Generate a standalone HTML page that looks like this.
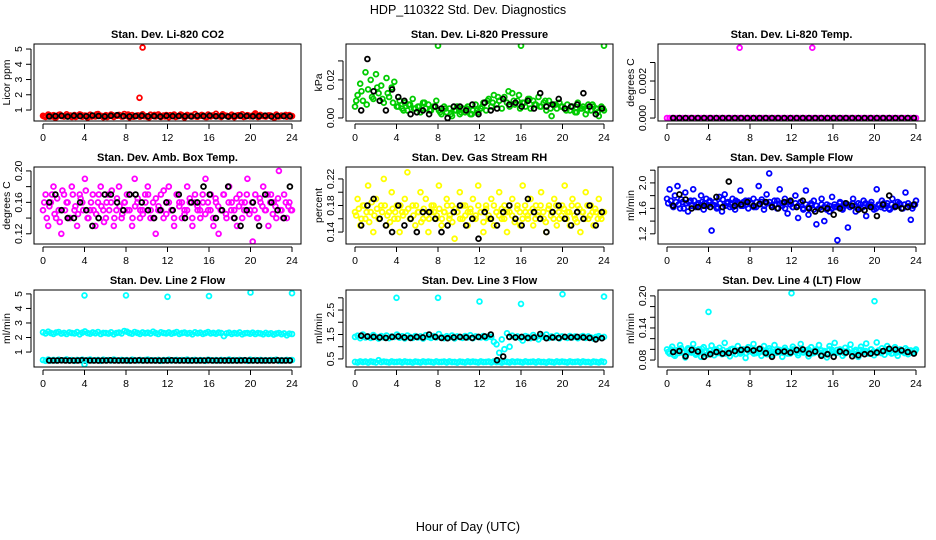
<!DOCTYPE html>
<html><head><meta charset="utf-8"><style>
html,body{margin:0;padding:0;background:#fff;}
svg{display:block;font-family:"Liberation Sans",Arial,sans-serif;}
</style></head><body>
<svg id="chart" width="936" height="540" viewBox="0 0 936 540">
<text x="468" y="14" font-size="12.5" text-anchor="middle">HDP_110322  Std. Dev. Diagnostics</text>
<text x="468" y="531" font-size="12.5" text-anchor="middle">Hour of Day (UTC)</text>
</svg>
<script>
// ---- data ----
const co2Vals=[.62,.55,.70,.58,.66,.52,.68,.60,.57,.72,.63,.54,.67,.59,.71,.56,.64,.50,.69,.61,.58,.73,.62,.53,.66,.60,.70,.55,.63,.68,.57,.74,.61,.52,.67,.59,.65,.56,.72,.60,.54,.69,.62,.58,.71,.55,.64,.67,.53,.60,.70,.57,.63,.66,.51,.68,.61,.59,.73,.56,.62,.65,.54,.70,.58,.64,.75,.60,.55,.67,.62,.57,.69,.53,.64,.61,.72,.56,.66,.59,.63,.78,.55,.68,.60,.57,.65,.62,.52,.70,.58,.64,.61,.56,.67,.60];
const co2Vals2=[.58,.66,.52,.7,.6,.64,.55,.68,.62,.57,.72,.6,.54,.66,.63,.58,.7,.56,.64,.6,.52,.68,.62,.58,.66,.55,.7,.6,.63,.57,.68,.54,.64,.61,.72,.58,.6,.66,.55,.63,.7,.57,.62,.65,.53,.6,.68,.58];
const co2Black=[.58,.6,.62,.57,.63,.6,.59,.64,.61,.58,.62,.66,.6,.58,.61,.63,.59,.6,.57,.62,.6,.61,.59,.58,.62,.6,.63,.59,.61,.57,.6,.62,.61,.59,.6,.63,.58,.61,.6,.59];
const co2OutH=[9.6,9.3], co2OutV=[5.1,1.8];

const presVals=[.006,.012,.018,.009,.024,.015,.020,.010,.023,.013,.017,.008,.021,.011,.016,.019,.006,.009,.005,.008,.004,.007,.010,.005,.006,.003,.008,.005,.007,.004,.006,.009,.004,.002,.006,.003,.005,.001,.004,.006,.002,.005,.003,.006,.002,.004,.007,.003,.005,.008,.004,.010,.006,.012,.007,.009,.005,.011,.008,.006,.013,.007,.009,.005,.008,.006,.010,.005,.009,.007,.011,.006,.008,.004,.009,.001,.007,.005,.008,.006,.005,.007,.004,.006,.003,.008,.005,.006,.002,.007,.004,.006,.005,.001,.006,.004];
const presVals2=[.009,.014,.007,.011,.016,.01,.013,.008,.006,.004,.007,.005,.006,.008,.004,.006,.003,.005,.002,.004,.003,.005,.002,.004,.006,.009,.008,.011,.01,.014,.009,.012,.008,.01,.007,.006,.009,.005,.007,.006,.004,.006,.003,.005,.004,.007,.003,.005];
const presBlack=[.004,.031,.014,.009,.004,.015,.011,.009,.002,.003,.004,.002,.006,.005,.000,.006,.006,.004,.007,.002,.008,.004,.005,.010,.007,.008,.006,.009,.005,.013,.006,.007,.010,.005,.006,.007,.013,.006,.002,.005];
const presOutH=[8,16,24], presOutV=[.038,.038,.038];

const tempVals=[0,0,0,0,0,0,0,0,0,0,0,0,0,0,0,0,0,0,0,0,0,0,0,0,0,0,0,0,0,0,0,0,0,0,0,0,0,0,0,0,0,0,0,0,0,0,0,0,0,0,0,0,0,0,0,0,0,0,0,0,0,0,0,0,0,0,0,0,0,0,0,0,0,0,0,0,0,0,0,0,0,0,0,0,0,0,0,0,0,0,0,0,0,0,0,0];
const tempBlack=[0,0,0,0,0,0,0,0,0,0,0,0,0,0,0,0,0,0,0,0,0,0,0,0,0,0,0,0,0,0,0,0,0,0,0,0,0,0,0,0];
const tempOutH=[7,14], tempOutV=[.0038,.0038];

const ambVals=[.15,.17,.13,.16,.18,.14,.15,.12,.17,.16,.14,.18,.15,.13,.17,.16,.19,.14,.15,.17,.13,.16,.18,.15,.14,.17,.16,.13,.15,.18,.14,.16,.17,.15,.13,.19,.16,.14,.15,.17,.18,.14,.16,.12,.15,.17,.14,.16,.18,.15,.13,.17,.16,.14,.15,.18,.16,.13,.17,.15,.14,.16,.19,.15,.17,.13,.16,.12,.15,.17,.14,.18,.16,.15,.13,.17,.14,.16,.19,.15,.11,.17,.14,.16,.18,.15,.13,.17,.16,.14,.20,.15,.17,.14,.16,.15];
const ambVals2=[.16,.14,.155,.17,.145,.165,.135,.175,.15,.16,.14,.17,.155,.145,.165,.15,.175,.14,.16,.15,.145,.17,.155,.135,.16,.15,.175,.14,.165,.155,.145,.16,.15,.17,.14,.155,.165,.15,.145,.16,.17,.15,.14,.165,.155,.15,.175,.145,.16,.15,.14,.17,.155,.16,.145,.15,.165,.14,.16,.155,.15,.17,.145,.16,.15,.14,.165,.155,.15,.17,.145,.16,.15,.14,.165,.155,.16,.15,.17,.145,.16,.15,.14,.165,.155,.15,.17,.16,.145,.155,.165,.15,.14,.16,.155,.15];
const ambBlack=[.16,.17,.15,.14,.14,.16,.15,.13,.14,.17,.17,.16,.15,.17,.17,.16,.15,.14,.15,.16,.15,.17,.14,.16,.16,.18,.17,.14,.15,.18,.14,.13,.15,.16,.13,.17,.16,.15,.14,.18];

const rhVals=[.17,.19,.15,.18,.16,.21,.17,.14,.19,.16,.18,.22,.15,.17,.20,.16,.18,.14,.17,.19,.23,.16,.18,.15,.17,.20,.16,.19,.14,.17,.18,.16,.21,.15,.17,.19,.16,.18,.13,.17,.20,.16,.18,.15,.17,.19,.16,.21,.17,.14,.18,.16,.19,.15,.17,.20,.16,.18,.14,.17,.19,.16,.18,.15,.21,.17,.16,.19,.15,.18,.17,.20,.16,.14,.18,.17,.19,.15,.16,.18,.21,.17,.15,.19,.16,.18,.14,.17,.20,.16,.18,.15,.17,.19,.16,.17];
const rhVals2=[.165,.175,.16,.18,.17,.155,.185,.165,.175,.16,.17,.18,.165,.155,.175,.17,.16,.18,.165,.17,.175,.16,.165,.18,.17,.155,.175,.165,.16,.18,.17,.165,.175,.16,.17,.18,.165,.155,.175,.17,.16,.18,.165,.17,.175,.16,.165,.18,.17,.155,.175,.165,.16,.18,.17,.165,.175,.16,.17,.18,.165,.155,.175,.17,.16,.18,.165,.17,.175,.16,.165,.18,.17,.155,.175,.165,.16,.18,.17,.165,.175,.16,.17,.18,.165,.155,.175,.17,.16,.18,.165,.17,.175,.16,.165,.17];
const rhBlack=[.15,.18,.19,.16,.15,.14,.18,.15,.16,.14,.17,.17,.16,.14,.15,.17,.18,.15,.16,.13,.17,.16,.15,.17,.18,.16,.15,.19,.17,.16,.14,.17,.18,.16,.15,.17,.16,.18,.15,.17];

const flowVals=[1.75,1.9,1.65,1.8,1.95,1.6,1.7,1.85,1.55,1.72,1.9,1.62,1.68,1.8,1.58,1.75,1.7,1.25,1.65,1.6,1.78,1.55,1.82,1.68,1.62,1.75,1.58,1.7,1.88,1.64,1.72,1.6,1.68,1.75,1.62,1.95,1.7,1.58,1.82,2.15,1.65,1.72,1.6,1.9,1.68,1.75,1.52,1.7,1.62,1.8,1.45,1.7,1.58,1.88,1.5,1.65,1.72,1.35,1.6,1.75,1.4,1.66,1.55,1.78,1.62,1.1,1.7,1.58,1.68,1.3,1.65,1.75,1.55,1.68,1.6,1.72,1.48,1.66,1.7,1.58,1.9,1.65,1.72,1.6,1.68,1.58,1.75,1.62,1.7,1.66,1.6,1.85,1.68,1.42,1.64,1.72];
const flowVals2=[1.68,1.72,1.62,1.7,1.66,1.74,1.6,1.68,1.7,1.64,1.72,1.66,1.62,1.7,1.68,1.64,1.72,1.66,1.7,1.62,1.68,1.74,1.64,1.7,1.66,1.62,1.72,1.68,1.64,1.7,1.66,1.72,1.68,1.62,1.7,1.66,1.74,1.64,1.68,1.7,1.62,1.66,1.72,1.68,1.64,1.6,1.7,1.66,1.62,1.68,1.64,1.7,1.6,1.66,1.62,1.68,1.58,1.64,1.6,1.66,1.62,1.58,1.64,1.6,1.66,1.62,1.68,1.6,1.64,1.66,1.62,1.68,1.64,1.6,1.66,1.62,1.68,1.64,1.66,1.62,1.6,1.66,1.62,1.68,1.64,1.6,1.66,1.62,1.64,1.68,1.6,1.66,1.62,1.64,1.6,1.66];
const flowBlack=[1.64,1.82,1.74,1.6,1.62,1.64,1.62,1.78,1.62,2.02,1.64,1.66,1.7,1.64,1.67,1.7,1.62,1.6,1.7,1.72,1.62,1.72,1.6,1.55,1.58,1.6,1.5,1.6,1.68,1.64,1.58,1.57,1.62,1.48,1.66,1.8,1.63,1.6,1.62,1.66];

const l2Top=[2.36,2.28,2.4,2.3,2.25,2.34,2.38,2.27,2.32,2.24,2.35,2.3,2.28,2.37,2.22,2.33,2.42,2.3,2.26,2.35,2.29,2.38,2.24,2.32,2.3,2.27,2.36,2.22,2.31,2.34,2.28,2.45,2.4,2.3,2.26,2.38,2.32,2.25,2.35,2.29,2.33,2.27,2.4,2.3,2.24,2.36,2.31,2.28,2.35,2.26,2.32,2.38,2.25,2.3,2.34,2.27,2.31,2.22,2.36,2.29,2.33,2.25,2.3,2.37,2.28,2.32,2.26,2.34,2.3,2.1,2.28,2.33,2.25,2.3,2.27,2.35,2.22,2.29,2.31,2.26,2.33,2.24,2.3,2.28,2.22,2.32,2.25,2.29,2.2,2.27,2.31,2.23,2.28,2.15,2.26,2.24];
const l2Low=[.45,.4,.48,.42,.46,.41,.47,.43,.44,.49,.42,.45,.4,.46,.43,.47,.41,.45,.48,.42,.44,.46,.4,.47,.43,.45,.41,.48,.44,.42,.46,.43,.45,.4,.47,.44,.42,.46,.41,.45,.48,.43,.44,.42,.46,.4,.45,.43,.47,.41,.44,.46,.42,.45,.43,.48,.41,.44,.46,.42,.45,.43,.4,.47,.44,.42,.45,.41,.46,.43,.44,.48,.42,.45,.41,.46,.43,.44,.4,.47,.42,.45,.43,.46,.41,.44,.42,.45,.43,.47,.4,.44,.42,.46,.43,.45];
const l2Black=[.42,.42,.42,.43,.42,.41,.42,.42,.43,.42,.42,.42,.41,.42,.42,.43,.42,.42,.42,.42,.41,.42,.43,.42,.42,.42,.42,.41,.42,.42,.43,.42,.42,.42,.42,.41,.42,.42,.42,.43,.42,.42,.42,.41,.42,.42,.42,.42,.43,.42,.42,.41,.42,.42,.42,.42,.43,.42,.42,.42];
const l2OutH=[4,8,12,16,20,24,4], l2OutV=[4.9,4.9,4.8,4.85,5.1,5.05,.15];

const l3Top=[1.4,1.45,1.35,1.5,1.38,1.42,1.36,1.48,1.4,1.33,1.44,1.38,1.46,1.35,1.42,1.4,1.5,1.37,1.43,1.34,1.46,1.4,1.36,1.44,1.38,1.42,1.33,1.47,1.4,1.36,1.44,1.38,1.52,1.4,1.35,1.43,1.38,1.46,1.34,1.42,1.4,1.36,1.44,1.38,1.47,1.35,1.42,1.4,1.38,1.44,1.36,1.42,1.4,1.2,1.1,.75,1.3,.9,1.55,1.0,1.45,1.38,1.42,1.36,1.25,1.44,1.4,1.35,1.48,1.38,1.3,1.43,1.4,1.5,1.36,1.42,1.38,1.46,1.34,1.42,1.4,1.36,1.44,1.38,1.42,1.35,1.4,1.44,1.36,1.42,1.38,1.33,1.4,1.43,1.36,1.4];
const l3Low=[.38,.36,.4,.37,.39,.35,.4,.38,.36,.45,.37,.39,.38,.36,.4,.37,.38,.39,.36,.4,.37,.38,.35,.39,.38,.36,.4,.37,.39,.38,.36,.4,.37,.38,.39,.36,.4,.37,.38,.35,.39,.38,.36,.4,.37,.39,.38,.36,.4,.37,.38,.39,.36,.4,.37,.38,.35,.39,.38,.36,.4,.37,.39,.38,.36,.4,.37,.38,.39,.36,.4,.37,.38,.35,.39,.38,.36,.4,.37,.39,.38,.36,.4,.37,.38,.39,.36,.4,.37,.38,.35,.39,.38,.36,.4,.38];
const l3Black=[1.45,1.42,1.4,1.38,1.36,1.4,1.42,1.38,1.36,1.4,1.38,1.5,1.4,1.36,1.35,1.38,1.4,1.38,1.36,1.4,1.42,1.5,.45,.6,1.4,1.38,1.4,1.36,1.38,1.52,1.35,1.38,1.36,1.4,1.38,1.4,1.38,1.36,1.3,1.35];
const l3OutH=[4,8,12,16,20,24], l3OutV=[3.0,3.0,2.85,2.75,3.15,3.05];

const l4Vals=[.1,.092,.105,.088,.098,.108,.094,.085,.102,.096,.11,.09,.1,.086,.104,.097,.093,.107,.089,.099,.103,.091,.112,.095,.087,.101,.098,.106,.092,.1,.084,.104,.097,.11,.093,.1,.088,.106,.096,.102,.09,.108,.094,.099,.086,.103,.097,.092,.105,.1,.089,.11,.095,.098,.087,.104,.093,.1,.108,.091,.097,.085,.106,.099,.112,.094,.1,.088,.103,.096,.109,.092,.099,.086,.105,.097,.111,.093,.1,.089,.113,.095,.102,.09,.106,.097,.093,.104,.088,.1,.096,.102,.091,.098,.094,.1];
const l4Vals2=[.095,.1,.09,.098,.093,.102,.096,.091,.1,.094,.099,.092,.097,.101,.095,.09,.098,.094,.1,.093,.096,.099,.092,.097,.1,.094,.091,.098,.095,.1,.093,.097,.096,.092,.099,.094,.1,.095,.091,.098,.096,.093,.1,.097,.094,.099,.092,.096,.1,.095,.093,.098,.094,.097,.1,.092,.096,.099,.094,.098,.095,.091,.1,.096,.093,.099,.095,.098,.092,.097,.1,.094,.096,.093,.099,.095,.097,.092,.1,.096,.094,.098,.093,.097,.1,.095,.092,.098,.094,.097,.096,.093,.099,.095,.094,.097];
const l4Black=[.095,.097,.087,.099,.096,.086,.091,.095,.092,.093,.097,.099,.1,.098,.101,.093,.086,.096,.096,.094,.099,.1,.092,.096,.088,.091,.086,.096,.094,.087,.089,.091,.092,.094,.097,.101,.1,.098,.095,.092];
const l4OutH=[4,12,20], l4OutV=[.17,.205,.19];

// ---- drawing ----
const NS='http://www.w3.org/2000/svg';
const svg=document.getElementById('chart');
function mk(tag,attrs,parent){const e=document.createElementNS(NS,tag);for(const k in attrs)e.setAttribute(k,attrs[k]);(parent||svg).appendChild(e);return e;}
const BW=267,BH=77;
function panel(col,row,name,title,ylab,ylim,ticks,tlabels,layers){
  const L=col*312+34,T=44+row*123;
  const g=mk('g',{});
  
  
  const xs=h=>L+9+(h/24)*(BW-18);
  const ys=v=>T+BH-(v-ylim[0])/(ylim[1]-ylim[0])*BH;
  const clip=mk('clipPath',{id:'c'+name},g);mk('rect',{x:L,y:T,width:BW,height:BH},clip);
  const pts=mk('g',{'clip-path':'url(#c'+name+')'},g);
  
  
  layers.forEach(ly=>{
    const n=ly.v.length;
    ly.v.forEach((v,i)=>{
      const h=ly.h?ly.h[i]:(ly.start||0)+i*((ly.end!==undefined?ly.end:24)-(ly.start||0))/(n-1);
      const c=mk('circle',{cx:xs(h).toFixed(1),cy:ys(v).toFixed(1),r:2.4,fill:'none',stroke:ly.c,'stroke-width':1.8},pts);
      
      
    });
  });
  const box=mk('rect',{x:L,y:T,width:BW,height:BH,fill:'none',stroke:'#000','stroke-width':1},g);
  
  
  const t=mk('text',{x:L+BW/2,y:T-6,'font-size':11,'font-weight':'bold','text-anchor':'middle'},g);t.textContent=title;
  
  
  const xt=[0,4,8,12,16,20,24];
  mk('line',{x1:xs(0),x2:xs(24),y1:T+BH+3,y2:T+BH+3,stroke:'#000'},g);
  xt.forEach(h=>{mk('line',{x1:xs(h),x2:xs(h),y1:T+BH+3,y2:T+BH+8,stroke:'#000'},g);
    const tx=mk('text',{x:xs(h),y:T+BH+20,'font-size':10.5,'text-anchor':'middle'},g);tx.textContent=h;
    
    });
  mk('line',{x1:L-3,x2:L-3,y1:ys(ticks[0]),y2:ys(ticks[ticks.length-1]),stroke:'#000'},g);
  ticks.forEach((v,i)=>{const y=ys(v);mk('line',{x1:L-8,x2:L-3,y1:y,y2:y,stroke:'#000'},g);
    if(tlabels[i]){const ty=mk('text',{x:0,y:0,'font-size':10.5,'text-anchor':'middle',transform:`translate(${L-12},${y}) rotate(-90)`},g);ty.textContent=tlabels[i];
    
    }});
  const yl=mk('text',{x:0,y:0,'font-size':10.5,'text-anchor':'middle',transform:`translate(${L-24},${T+BH/2}) rotate(-90)`},g);yl.textContent=ylab;
  
  
}
const K='#000';
panel(0,0,'co2','Stan. Dev. Li-820 CO2','Licor ppm',[0.28,5.33],[1,2,3,4,5],['1','2','3','4','5'],
 [{v:co2Vals,c:'#ff0000'},{v:co2Vals2,c:'#ff0000',start:.12,end:23.9},{v:co2Black,c:K,start:.6,end:23.8},{v:co2OutV,h:co2OutH,c:'#ff0000'}]);
panel(1,0,'pressure','Stan. Dev. Li-820 Pressure','kPa',[-0.0016,0.0389],[0,.01,.02,.03],['0.00','','0.02',''],
 [{v:presVals,c:'#00cc00'},{v:presVals2,c:'#00cc00',start:.12,end:23.9},{v:presBlack,c:K,start:.6,end:23.8},{v:presOutV,h:presOutH,c:'#00cc00'}]);
panel(2,0,'temp','Stan. Dev. Li-820 Temp.','degrees C',[-0.00016,0.004],[0,.001,.002,.003],['0.000','','0.002',''],
 [{v:tempVals,c:'#ff00ff'},{v:tempBlack,c:K,start:.6,end:23.8},{v:tempOutV,h:tempOutH,c:'#ff00ff'}]);
panel(0,1,'ambtemp','Stan. Dev. Amb. Box Temp.','degrees C',[0.107,0.205],[.12,.14,.16,.18,.20],['0.12','','0.16','','0.20'],
 [{v:ambVals,c:'#ff00ff'},{v:ambVals2,c:'#ff00ff',start:.12,end:23.9},{v:ambBlack,c:K,start:.6,end:23.8}]);
panel(1,1,'rh','Stan. Dev. Gas Stream RH','percent',[0.122,0.238],[.14,.16,.18,.20,.22],['0.14','','0.18','','0.22'],
 [{v:rhVals,c:'#ffff00'},{v:rhVals2,c:'#ffff00',start:.12,end:23.9},{v:rhBlack,c:K,start:.6,end:23.8}]);
panel(2,1,'sampleflow','Stan. Dev. Sample Flow','ml/min',[1.04,2.25],[1.2,1.4,1.6,1.8,2.0,2.2],['1.2','','1.6','','2.0',''],
 [{v:flowVals,c:'#0000ff'},{v:flowVals2,c:'#0000ff',start:.12,end:23.9},{v:flowBlack,c:K,start:.6,end:23.8}]);
panel(0,2,'line2','Stan. Dev. Line 2 Flow','ml/min',[-0.03,5.27],[1,2,3,4,5],['1','2','3','4','5'],
 [{v:l2Top,c:'#00ffff'},{v:l2Low,c:'#00ffff'},{v:l2Black,c:K,start:.6,end:23.8},{v:l2OutV,h:l2OutH,c:'#00ffff'}]);
panel(1,2,'line3','Stan. Dev. Line 3 Flow','ml/min',[0.17,3.32],[.5,1,1.5,2,2.5,3],['0.5','','1.5','','2.5',''],
 [{v:l3Top,c:'#00ffff'},{v:l3Low,c:'#00ffff'},{v:l3Black,c:K,start:.6,end:23.8},{v:l3OutV,h:l3OutH,c:'#00ffff'}]);
panel(2,2,'line4','Stan. Dev. Line 4 (LT) Flow','ml/min',[0.067,0.211],[.08,.10,.12,.14,.16,.18,.20],['0.08','','','0.14','','','0.20'],
 [{v:l4Vals,c:'#00ffff'},{v:l4Vals2,c:'#00ffff',start:.12,end:23.9},{v:l4Black,c:K,start:.6,end:23.8},{v:l4OutV,h:l4OutH,c:'#00ffff'}]);
</script>
</body></html>
